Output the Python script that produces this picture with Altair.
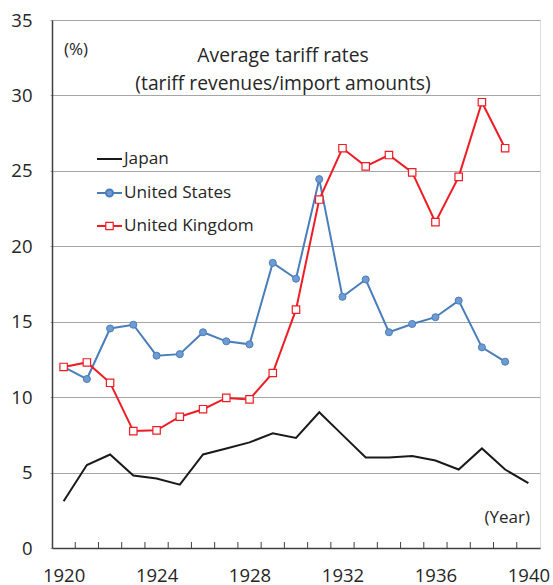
import altair as alt
import pandas as pd

years = list(range(1920, 1941))
japan = [3.1, 5.5, 6.2, 4.8, 4.6, 4.2, 6.2, 6.6, 7.0, 7.6, 7.3, 9.0, 7.5, 6.0,
         6.0, 6.1, 5.8, 5.2, 6.6, 5.2, 4.3]
us = [12.0, 11.2, 14.55, 14.8, 12.75, 12.85, 14.3, 13.7, 13.5, 18.9, 17.85,
      24.45, 16.65, 17.8, 14.3, 14.85, 15.3, 16.4, 13.3, 12.35]
uk = [12.0, 12.3, 10.95, 7.75, 7.8, 8.7, 9.2, 9.95, 9.85, 11.6, 15.8, 23.1,
      26.5, 25.3, 26.05, 24.9, 21.6, 24.6, 29.55, 26.5]
series_names = ["Japan", "United States", "United Kingdom"]
x_label_years = [1920, 1924, 1928, 1932, 1936, 1940]
y_ticks = [0, 5, 10, 15, 20, 25, 30, 35]
tick_bounds = [y + 0.5 for y in years[:-1]]

FONT = "Open Sans"
TXT = "#262626"
BLUE = "#4A7EBB"
BLUE_FILL = "#6F9AD2"
RED = "#EE1C25"

df_jp = pd.DataFrame({"year": years, "value": japan})
df_us = pd.DataFrame({"year": years[:len(us)], "value": us})
df_uk = pd.DataFrame({"year": years[:len(uk)], "value": uk})

xscale = alt.Scale(domain=[1919.5, 1940.5], nice=False, zero=False)
yscale = alt.Scale(domain=[0, 35], nice=False)

x_enc = alt.X("year:Q", scale=xscale,
              axis=alt.Axis(values=x_label_years, format="d", ticks=False, grid=False,
                            labelFontSize=18.5, labelFont=FONT, labelColor=TXT,
                            labelPadding=18, domainColor="#404040", domainWidth=1.5,
                            title=None))
y_enc = alt.Y("value:Q", scale=yscale,
              axis=alt.Axis(values=y_ticks, grid=True, gridColor="#A6A6A6", gridWidth=1,
                            ticks=True, tickSize=2, tickColor="#A6A6A6",
                            labelFontSize=18.5, labelFont=FONT, labelColor=TXT,
                            labelPadding=18, domainColor="#404040", domainWidth=1.5,
                            title=None))

jp_line = alt.Chart(df_jp).mark_line(color="#1A1A1A", strokeWidth=2).encode(x=x_enc, y=y_enc)
us_line = alt.Chart(df_us).mark_line(color=BLUE, strokeWidth=2).encode(x="year:Q", y="value:Q")
us_pts = alt.Chart(df_us).mark_point(shape="circle", filled=True, size=50, fill=BLUE_FILL,
                                     stroke=BLUE, strokeWidth=1, opacity=1).encode(x="year:Q", y="value:Q")
uk_line = alt.Chart(df_uk).mark_line(color=RED, strokeWidth=2).encode(x="year:Q", y="value:Q")
uk_pts = alt.Chart(df_uk).mark_point(shape="square", filled=True, size=55, fill="white",
                                     stroke=RED, strokeWidth=1.2, opacity=1).encode(x="year:Q", y="value:Q")

ticks_df = pd.DataFrame({"b": tick_bounds})
x_ticks = alt.Chart(ticks_df).mark_rule(color="#404040", strokeWidth=1).encode(
    x="b:Q", y=alt.value(528), y2=alt.value(522))

one = pd.DataFrame({"a": [0]})
def txt(s, x, y, align="center", size=19.3):
    return alt.Chart(one).mark_text(text=s, font=FONT, fontSize=size, color=TXT,
                                    align=align, baseline="middle").encode(
        x=alt.value(x), y=alt.value(y))

annots = [
    txt("(%)", 24, 30, size=17),
    txt("Average tariff rates", 231, 36),
    txt("(tariff revenues/import amounts)", 231, 64),
    txt("(Year)", 478, 498, align="right", size=17),
]

leg_y = [139, 173, 206]
leg_layers = []
leg_colors = ["#1A1A1A", BLUE, RED]
for i, name in enumerate(series_names):
    d = pd.DataFrame({"name": [name]})
    leg_layers.append(alt.Chart(d).mark_rule(color=leg_colors[i], strokeWidth=2).encode(
        x=alt.value(45), x2=alt.value(70), y=alt.value(leg_y[i])))
    if i == 1:
        leg_layers.append(alt.Chart(d).mark_point(shape="circle", filled=True, size=50,
                                                  fill=BLUE_FILL, stroke=BLUE, opacity=1).encode(
            x=alt.value(57.5), y=alt.value(leg_y[i])))
    if i == 2:
        leg_layers.append(alt.Chart(d).mark_point(shape="square", filled=True, size=55,
                                                  fill="white", stroke=RED, strokeWidth=1.2,
                                                  opacity=1).encode(
            x=alt.value(57.5), y=alt.value(leg_y[i])))
    leg_layers.append(alt.Chart(d).mark_text(font=FONT, fontSize=17.2, color=TXT, align="left",
                                             baseline="middle").encode(
        x=alt.value(72), y=alt.value(leg_y[i]), text="name:N"))

chart = alt.layer(jp_line, us_line, uk_line, us_pts, uk_pts, x_ticks, *annots, *leg_layers).properties(
    width=488, height=528,
    autosize=alt.AutoSizeParams(type="none"),
    padding={"left": 52, "top": 20, "right": 13, "bottom": 37},
).configure_view(stroke="#808080", strokeWidth=1).configure(background="white")

chart.save("out.html", embed_options={"renderer": "svg", "actions": False})
